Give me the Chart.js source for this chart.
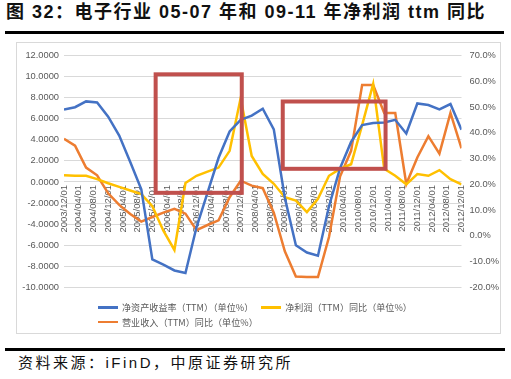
<!DOCTYPE html>
<html><head><meta charset="utf-8">
<script src="https://cdn.jsdelivr.net/npm/chart.js@4"></script>
<style>
body{margin:0;width:511px;height:379px;background:#fff;position:relative;overflow:hidden;font-family:"Liberation Sans","Noto Sans CJK SC",sans-serif}
#title{position:absolute;left:6px;top:1px;font-size:18px;font-weight:bold;color:#111;letter-spacing:1.5px;white-space:nowrap;line-height:22px}
#rule1{position:absolute;left:5px;top:31px;width:499px;height:3px;background:#000}
#frame{position:absolute;left:16px;top:42px;width:483px;height:290px;border:1px solid #d9d9d9}
#wrap{position:absolute;left:16px;top:42px;width:484px;height:291px}
#legend{position:absolute;left:98px;top:300px;width:340px;font-family:"Noto Sans CJK SC",sans-serif;font-size:9.1px;color:#595959;line-height:14.5px}
.row{display:flex;height:14.5px;white-space:nowrap}
.li{display:inline-flex;align-items:center;white-space:nowrap;margin-right:8px;height:14.5px}
.sw{display:inline-block;width:20px;height:2.5px;margin-right:4px}
#rule2{position:absolute;left:5px;top:348px;width:500px;height:3px;background:#000}
#source{position:absolute;left:18px;top:353px;font-size:15px;color:#111;letter-spacing:2.5px;white-space:nowrap;line-height:20px;font-family:"Liberation Sans","Noto Sans CJK SC",sans-serif}
</style></head>
<body>
<div id="title">图 32：电子行业 05-07 年和 09-11 年净利润 ttm 同比</div>
<div id="rule1"></div>
<div id="frame"></div>
<div id="wrap"><canvas id="c" width="484" height="291"></canvas></div>
<div id="legend"></div>
<div id="rule2"></div>
<div id="source">资料来源：iFinD，中原证券研究所</div>
<script>
// Quarterly dates
const dates = ['2003/12/01','2004/03/01','2004/06/01','2004/09/01','2004/12/01','2005/03/01','2005/06/01','2005/09/01','2005/12/01',
 '2006/03/01','2006/06/01','2006/09/01','2006/12/01','2007/03/01','2007/06/01','2007/09/01','2007/12/01',
 '2008/03/01','2008/06/01','2008/09/01','2008/12/01','2009/03/01','2009/06/01','2009/09/01','2009/12/01',
 '2010/03/01','2010/06/01','2010/09/01','2010/12/01','2011/03/01','2011/06/01','2011/09/01','2011/12/01',
 '2012/03/01','2012/06/01','2012/09/01','2012/12/01'];
// 净资产收益率（TTM）（单位%） - left axis
const roe = [6.89,7.1,7.65,7.55,6.2,4.4,1.9,-0.7,-7.35,-7.85,-8.4,-8.65,-4.3,-1.0,2.3,4.8,5.9,6.3,6.95,5.0,-1.5,-6.0,-6.7,-7.0,-2.3,1.3,3.8,5.4,5.6,5.65,5.9,4.6,7.45,7.3,6.9,7.4,4.95];
// 净利润（TTM）同比（单位%） - right axis
const profitYoy = [23.5,23.3,23.3,22,20.4,19,17.6,16.2,11.5,2,-5.5,20.5,23.3,24.9,26.5,33,53.5,31,24,20.2,15,13.7,9.2,14.4,23.3,26,27.8,43,59,26,23.3,20,24,23.3,25.5,22,20];
// 营业收入（TTM）同比（单位%） - right axis
const revenueYoy = [37.7,35,26.5,23.5,16.5,12,8.5,5.5,7.3,9.0,10.5,8.6,2.2,4.2,6.0,15,21.4,19.5,18.5,9,-6,-15.8,-16,-16,-0.5,23,33,58.6,58.6,47.7,47.7,20.1,30.4,38.7,31.9,47.7,34];
const seriesNames = ['净资产收益率（TTM）（单位%）','净利润（TTM）同比（单位%）','营业收入（TTM）同比（单位%）'];
const tickLabels = ['2003/12/01','2004/04/01','2004/08/01','2004/12/01','2005/04/01','2005/08/01','2005/12/01','2006/04/01','2006/08/01','2006/12/01',
 '2007/04/01','2007/08/01','2007/12/01','2008/04/01','2008/08/01','2008/12/01','2009/04/01','2009/08/01','2009/12/01','2010/04/01',
 '2010/08/01','2010/12/01','2011/04/01','2011/08/01','2011/12/01','2012/04/01','2012/08/01','2012/12/01'];
// highlight boxes: [startDate, endDate, top (left-axis units), bottom]
const highlightStart = ['2005/12/28','2008/11/14'];
const highlightEnd = ['2007/12/10','2011/03/12'];
const highlightTop = [10.22, 7.64];
const highlightBottom = [-1.03, 1.25];

function monthIdx(s){const p=s.split('/').map(Number);return (p[0]-2003)*12+(p[1]-12)+(p[2]-1)/30;}
const labelMap = {};
tickLabels.forEach(s=>{labelMap[Math.round(monthIdx(s))]=s;});
const pts = arr => arr.map((v,i)=>({x:monthIdx(dates[i]),y:v}));

const boxPlugin = {
  id:'boxes',
  afterDatasetsDraw(chart){
    const {ctx,scales:{x,y}} = chart;
    ctx.save();
    ctx.strokeStyle='#C0504D';
    ctx.lineWidth=4;
    for(let i=0;i<highlightStart.length;i++){
      const x1=x.getPixelForValue(monthIdx(highlightStart[i]));
      const x2=x.getPixelForValue(monthIdx(highlightEnd[i]));
      const y1=y.getPixelForValue(highlightTop[i]);
      const y2=y.getPixelForValue(highlightBottom[i]);
      ctx.strokeRect(x1,y1,x2-x1,y2-y1);
    }
    ctx.restore();
  }
};

const colors = ['#4472C4','#FFC000','#ED7D31'];
const chart = new Chart(document.getElementById('c'),{
  type:'line',
  data:{datasets:[
    {label:seriesNames[0],data:pts(roe),yAxisID:'y',borderColor:colors[0],borderWidth:2.5,pointRadius:0,tension:0},
    {label:seriesNames[1],data:pts(profitYoy),yAxisID:'y2',borderColor:colors[1],borderWidth:2.5,pointRadius:0,tension:0},
    {label:seriesNames[2],data:pts(revenueYoy),yAxisID:'y2',borderColor:colors[2],borderWidth:2.5,pointRadius:0,tension:0}
  ]},
  options:{
    responsive:false,animation:false,
    layout:{padding:{top:11.3,bottom:45.7,left:0,right:0}},
    plugins:{legend:{display:false},tooltip:{enabled:false}},
    scales:{
      x:{type:'linear',position:{y:0},min:0,max:108,
        grid:{display:false,drawTicks:false},border:{display:false},
        afterBuildTicks(s){s.ticks=tickLabels.map(t=>({value:Math.round(monthIdx(t))}));},
        ticks:{autoSkip:false,minRotation:90,maxRotation:90,padding:3,color:'#595959',
          font:{family:'Liberation Sans',size:9.5},callback:v=>labelMap[v]||''}},
      y:{position:'left',min:-10,max:12,
        afterFit(s){s.width=48;},
        grid:{color:'#d9d9d9',lineWidth:1,drawTicks:false},border:{display:false},
        ticks:{stepSize:2,padding:5,color:'#595959',font:{family:'Liberation Sans',size:9.3},callback:v=>v.toFixed(4)}},
      y2:{position:'right',min:-20,max:70,
        afterFit(s){s.width=38.5;},
        grid:{display:false,drawTicks:false},border:{display:false},
        ticks:{stepSize:10,padding:8,color:'#595959',font:{family:'Liberation Sans',size:9.3},callback:v=>v.toFixed(1)+'%'}}
    }
  },
  plugins:[boxPlugin]
});

// HTML legend built from datasets: two per row, as in the reference
const lg = document.getElementById('legend');
let row = null;
chart.data.datasets.forEach((ds,i)=>{
  if(i%2===0){row=document.createElement('div');row.className='row';lg.appendChild(row);}
  const it=document.createElement('span');it.className='li';
  const sw=document.createElement('span');sw.className='sw';sw.style.background=ds.borderColor;
  const tx=document.createElement('span');tx.textContent=ds.label;
  it.appendChild(sw);it.appendChild(tx);row.appendChild(it);
});
</script>
</body></html>
